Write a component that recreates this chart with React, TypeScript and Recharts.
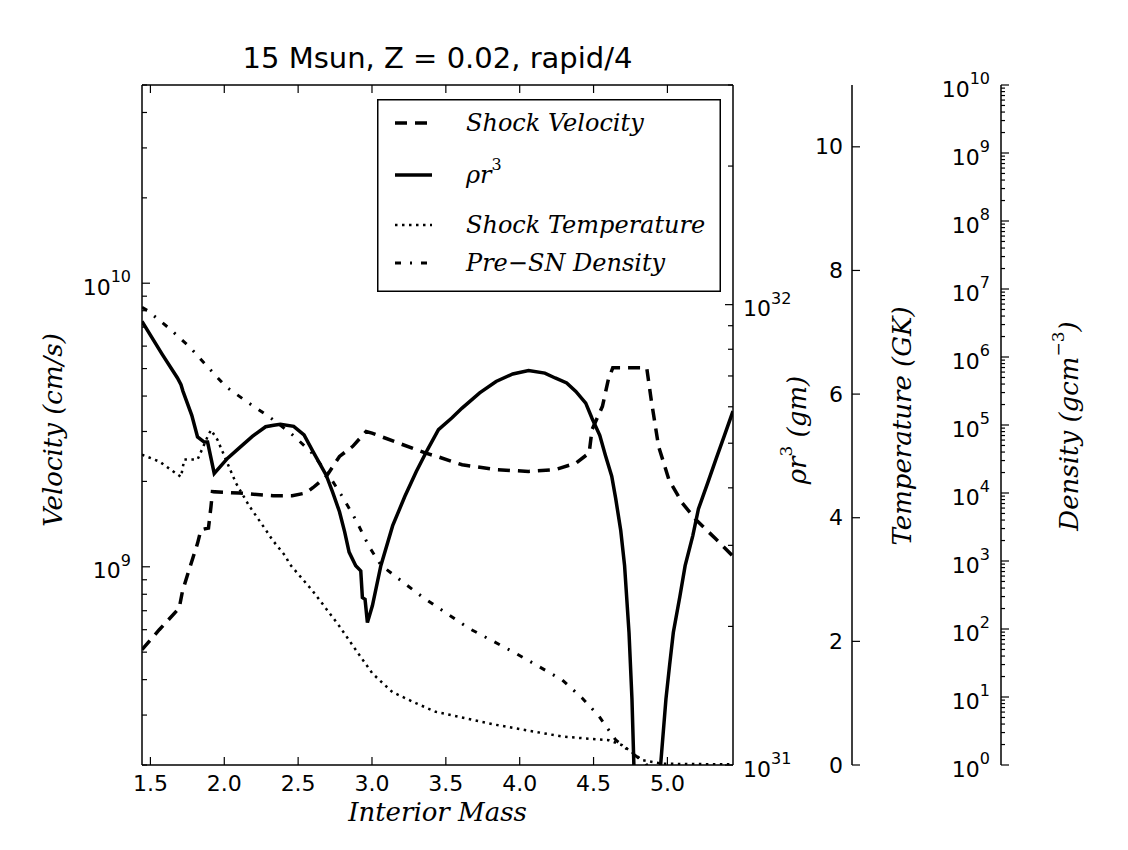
import React from "react";
import { ComposedChart, Line, XAxis, YAxis, Legend } from "recharts";

// [interior mass, value] pairs
const shockVelocity: [number, number][] = [
  [1.443, 5.1e8], [1.56, 6.0e8], [1.695, 7.15e8], [1.717, 8.2e8], [1.763, 9.8e8],
  [1.819, 1.21e9], [1.842, 1.35e9], [1.893, 1.37e9], [1.91, 1.63e9], [1.92, 1.84e9],
  [2.1, 1.82e9], [2.33, 1.78e9], [2.46, 1.78e9], [2.55, 1.82e9], [2.6, 1.9e9],
  [2.69, 2.08e9], [2.78, 2.45e9], [2.87, 2.66e9], [2.96, 3.0e9], [3.0, 2.96e9],
  [3.18, 2.73e9], [3.36, 2.52e9], [3.45, 2.44e9], [3.61, 2.29e9], [3.84, 2.2e9],
  [4.06, 2.17e9], [4.24, 2.2e9], [4.38, 2.32e9], [4.47, 2.52e9], [4.49, 3.05e9],
  [4.56, 3.68e9], [4.6, 4.57e9], [4.63, 5.03e9], [4.86, 5.03e9], [4.89, 3.89e9],
  [4.94, 2.66e9], [5.01, 2.03e9], [5.1, 1.68e9], [5.19, 1.47e9], [5.33, 1.25e9],
  [5.444, 1.09e9],
];

const rhoR3: [number, number][] = [
  [1.443, 9.2e31], [1.58, 7.8e31], [1.683, 6.93e31], [1.707, 6.7e31], [1.72, 6.49e31],
  [1.78, 5.75e31], [1.819, 5.16e31], [1.864, 5.03e31], [1.887, 5.03e31], [1.932, 4.3e31],
  [2.023, 4.64e31], [2.1, 4.88e31], [2.192, 5.18e31], [2.28, 5.43e31], [2.335, 5.47e31],
  [2.38, 5.5e31], [2.47, 5.44e31], [2.54, 5.21e31], [2.6, 4.8e31], [2.69, 4.26e31],
  [2.734, 3.91e31], [2.78, 3.55e31], [2.815, 3.21e31], [2.845, 2.9e31], [2.89, 2.71e31],
  [2.924, 2.64e31], [2.935, 2.31e31], [2.953, 2.29e31], [2.969, 2.04e31], [3.003, 2.22e31],
  [3.06, 2.71e31], [3.14, 3.31e31], [3.222, 3.83e31], [3.3, 4.34e31], [3.377, 4.85e31],
  [3.45, 5.35e31], [3.54, 5.67e31], [3.61, 5.96e31], [3.729, 6.43e31], [3.84, 6.81e31],
  [3.953, 7.07e31], [4.06, 7.19e31], [4.17, 7.1e31], [4.24, 6.93e31], [4.318, 6.76e31],
  [4.38, 6.48e31], [4.447, 6.11e31], [4.49, 5.66e31], [4.542, 5.2e31], [4.58, 4.71e31],
  [4.623, 4.24e31], [4.65, 3.79e31], [4.684, 3.23e31], [4.71, 2.71e31], [4.74, 1.94e31],
  [4.76, 1.39e31], [4.773, 1.0e31], [4.8, 4e30], [4.9, 3e30], [4.954, 1.0e31],
  [4.99, 1.39e31], [5.015, 1.65e31], [5.04, 1.94e31], [5.084, 2.32e31], [5.12, 2.71e31],
  [5.172, 3.15e31], [5.21, 3.6e31], [5.274, 4.11e31], [5.33, 4.63e31], [5.388, 5.22e31],
  [5.444, 5.87e31],
];

const shockTemperature: [number, number][] = [
  [1.443, 5.02], [1.56, 4.91], [1.707, 4.66], [1.729, 4.94], [1.819, 4.94],
  [1.887, 5.31], [1.91, 5.42], [1.954, 5.26], [2.011, 4.94], [2.079, 4.56],
  [2.169, 4.19], [2.282, 3.8], [2.326, 3.64], [2.417, 3.37], [2.439, 3.26],
  [2.597, 2.82], [2.778, 2.25], [2.891, 1.86], [3.003, 1.48], [3.138, 1.18],
  [3.297, 1.0], [3.432, 0.86], [3.838, 0.65], [4.288, 0.46], [4.604, 0.4],
  [4.694, 0.32], [4.83, 0.08], [4.965, 0.02], [5.444, 0.01],
];

const preSnDensity: [number, number][] = [
  [1.443, 5.4e6], [1.481, 4.8e6], [1.627, 2.64e6], [1.763, 1.42e6], [1.887, 7.2e5],
  [2.011, 3.66e5], [2.169, 2.08e5], [2.304, 1.32e5], [2.451, 7.55e4], [2.586, 4.05e4],
  [2.699, 1.95e4], [2.8, 8.8e3], [2.891, 4.0e3], [2.981, 1.62e3], [3.06, 873],
  [3.206, 496], [3.341, 296], [3.657, 102], [3.973, 44], [4.288, 17.8],
  [4.424, 9.6], [4.537, 5.2], [4.65, 2.33], [4.762, 1.49], [4.853, 1.06], [4.9, 0.7],
];

const massDomain: [number, number] = [1.443, 5.444];
const massTicks = [1.5, 2.0, 2.5, 3.0, 3.5, 4.0, 4.5, 5.0];
const velocityDomain: [number, number] = [2e8, 5e10];
const rhoDomain: [number, number] = [1e31, 3e32];
const tempDomain: [number, number] = [0, 11];
const tempTicks = [0, 2, 4, 6, 8, 10];
const densityDomain: [number, number] = [1, 1e10];

const legendItems = [
  { name: "Shock Velocity", sup: "", dash: "12 8", width: 3.5 },
  { name: "ρr", sup: "3", dash: "", width: 3.5 },
  { name: "Shock Temperature", sup: "", dash: "2.5 4.5", width: 2.5 },
  { name: "Pre−SN Density", sup: "", dash: "6 9 2 9", width: 3 },
];

// 1..9 x 10^k between lo and hi (log axis major + minor ticks)
function logTicks(lo: number, hi: number) {
  const out: number[] = [];
  for (let k = Math.floor(Math.log10(lo)); k <= Math.ceil(Math.log10(hi)); k++) {
    for (let m = 1; m <= 9; m++) {
      const v = m * Math.pow(10, k);
      if (v >= lo * (1 - 1e-9) && v <= hi * (1 + 1e-9)) out.push(v);
    }
  }
  return out;
}

const toRows = (pts: [number, number][]) => pts.map(([m, v]) => ({ m, v }));

const W = 1103;
const H = 835;
const LEFT = 134;
const TOP = 76;
const RHO_W = 119;
const TEMP_W = 149;
const DENS_W = 110;
const RIGHT = W - RHO_W - TEMP_W - DENS_W;
const CX = (LEFT + RIGHT) / 2;

const SANS = "'DejaVu Sans', sans-serif";
const SERIF = "'DejaVu Serif', serif";
const SPINE = { stroke: "#000", strokeWidth: 1.5 };

function isDecade(v: number) {
  const l = Math.log10(v);
  return Math.abs(l - Math.round(l)) < 1e-6;
}

function makeYTick(dir: number, labelDx: number, anchor: "start" | "end", log: boolean, minorLen: number) {
  return function YTick(props: any) {
    const { x, y, payload } = props;
    const v: number = payload.value;
    const major = log ? isDecade(v) : true;
    const len = major ? 8 : minorLen;
    return (
      <g>
        <line x1={x} y1={y} x2={x + dir * len} y2={y} stroke="#000" strokeWidth={1.2} />
        {major && log && (
          <text x={x + labelDx} y={y + 4} textAnchor={anchor} dominantBaseline="central" fontFamily={SANS} fontSize={22} fill="#000">
            10
            <tspan dy={-11} fontSize={16}>
              {Math.round(Math.log10(v))}
            </tspan>
          </text>
        )}
        {major && !log && (
          <text x={x + labelDx} y={y} textAnchor={anchor} dominantBaseline="central" fontFamily={SANS} fontSize={22} fill="#000">
            {v}
          </text>
        )}
      </g>
    );
  };
}

function makeXTick(dir: number, showLabel: boolean) {
  return function XTick(props: any) {
    const { x, y, payload } = props;
    return (
      <g>
        <line x1={x} y1={y} x2={x} y2={y + dir * 8} stroke="#000" strokeWidth={1.2} />
        {showLabel && (
          <text x={x} y={y + 18} textAnchor="middle" dominantBaseline="central" fontFamily={SANS} fontSize={22} fill="#000">
            {Number(payload.value).toFixed(1)}
          </text>
        )}
      </g>
    );
  };
}

const labelStyle = { fontFamily: SERIF, fontStyle: "italic" as const, fontSize: 26, fill: "#000" };

function vLabel(cx: number, cy: number, content: React.ReactNode) {
  return () => (
    <text x={cx} y={cy} transform={`rotate(-90, ${cx}, ${cy})`} textAnchor="middle" dominantBaseline="central" {...labelStyle}>
      {content}
    </text>
  );
}

// bottom axis label also carries the chart title
function bottomLabel() {
  return (
    <g>
      <text x={CX} y={60.3} textAnchor="middle" fontFamily={SANS} fontSize={29} fill="#000">
        15 Msun, Z = 0.02, rapid/4
      </text>
      <text x={CX} y={804} textAnchor="middle" dominantBaseline="central" {...labelStyle}>
        Interior Mass
      </text>
    </g>
  );
}

function renderLegend() {
  const rows = [24, 76, 126, 164];
  return (
    <svg width={344} height={193} style={{ display: "block" }}>
      <rect x={0.75} y={0.75} width={342.5} height={191.5} fill="#fff" stroke="#000" strokeWidth={1.5} />
      {legendItems.map((it, i) => (
        <g key={it.name}>
          <line x1={18} y1={rows[i]} x2={55} y2={rows[i]} stroke="#000" strokeWidth={it.width} strokeDasharray={it.dash || undefined} />
          <text x={89} y={rows[i]} dominantBaseline="central" {...labelStyle} fontSize={24}>
            {it.name}
            {it.sup && (
              <tspan dy={-11} fontSize={16} fontStyle="normal">
                {it.sup}
              </tspan>
            )}
          </text>
        </g>
      ))}
    </svg>
  );
}

export default function App() {
  return (
    <div style={{ width: W, height: H, fontFamily: SANS }}>
      <ComposedChart width={W} height={H} margin={{ top: TOP, right: 0, bottom: 8, left: 0 }}>
        <XAxis
          xAxisId="x"
          dataKey="m"
          type="number"
          domain={massDomain}
          allowDataOverflow
          ticks={massTicks}
          interval={0}
          height={70}
          tickSize={0}
          tickMargin={0}
          tickLine={false}
          axisLine={SPINE}
          tick={makeXTick(-1, true)}
          label={bottomLabel}
        />
        <XAxis
          xAxisId="top"
          orientation="top"
          dataKey="m"
          type="number"
          domain={massDomain}
          allowDataOverflow
          ticks={massTicks}
          interval={0}
          height={1}
          tickSize={0}
          tickMargin={0}
          tickLine={false}
          axisLine={SPINE}
          tick={makeXTick(1, false)}
        />
        <YAxis
          yAxisId="vel"
          orientation="left"
          width={LEFT}
          type="number"
          scale="log"
          domain={velocityDomain}
          allowDataOverflow
          ticks={logTicks(velocityDomain[0], velocityDomain[1])}
          interval={0}
          tickSize={0}
          tickMargin={0}
          tickLine={false}
          axisLine={SPINE}
          tick={makeYTick(1, -11, "end", true, 5)}
          label={vLabel(45, 422, "Velocity (cm/s)")}
        />
        <YAxis
          yAxisId="r1_rho"
          orientation="right"
          width={RHO_W}
          type="number"
          scale="log"
          domain={rhoDomain}
          allowDataOverflow
          ticks={logTicks(rhoDomain[0], rhoDomain[1])}
          interval={0}
          tickSize={0}
          tickMargin={0}
          tickLine={false}
          axisLine={SPINE}
          tick={makeYTick(-1, 10, "start", true, 5)}
          label={vLabel(RIGHT + 64, 422, (
            <>
              ρr
              <tspan dy={-11} fontSize={17} fontStyle="normal">3</tspan>
              <tspan dy={11}> (gm)</tspan>
            </>
          ))}
        />
        <YAxis
          yAxisId="r2_temp"
          orientation="right"
          width={TEMP_W}
          type="number"
          domain={tempDomain}
          allowDataOverflow
          ticks={tempTicks}
          interval={0}
          tickSize={0}
          tickMargin={0}
          tickLine={false}
          axisLine={SPINE}
          tick={makeYTick(1, -9, "end", false, 4)}
          label={vLabel(RIGHT + RHO_W + 50, 418, "Temperature (GK)")}
        />
        <YAxis
          yAxisId="r3_dens"
          orientation="right"
          width={DENS_W}
          type="number"
          scale="log"
          domain={densityDomain}
          allowDataOverflow
          ticks={logTicks(densityDomain[0], densityDomain[1])}
          interval={0}
          tickSize={0}
          tickMargin={0}
          tickLine={false}
          axisLine={SPINE}
          tick={makeYTick(1, -11, "end", true, 4)}
          label={vLabel(RIGHT + RHO_W + TEMP_W + 68, 418, (
            <>
              Density (gcm
              <tspan dy={-11} fontSize={17} fontStyle="normal">−3</tspan>
              <tspan dy={11}>)</tspan>
            </>
          ))}
        />
        <Legend
          layout="vertical"
          align="center"
          verticalAlign="middle"
          content={renderLegend}
          wrapperStyle={{ left: 369, top: 91, width: 344, height: 193 }}
        />
        <Line
          data={toRows(shockVelocity)}
          dataKey="v"
          xAxisId="x"
          yAxisId="vel"
          type="linear"
          stroke="#000"
          strokeWidth={3.5}
          strokeDasharray="12 8"
          dot={false}
          isAnimationActive={false}
        />
        <Line
          data={toRows(rhoR3)}
          dataKey="v"
          xAxisId="x"
          yAxisId="r1_rho"
          type="linear"
          stroke="#000"
          strokeWidth={3.5}
          dot={false}
          isAnimationActive={false}
        />
        <Line
          data={toRows(shockTemperature)}
          dataKey="v"
          xAxisId="x"
          yAxisId="r2_temp"
          type="linear"
          stroke="#000"
          strokeWidth={2.5}
          strokeDasharray="2.5 4.5"
          dot={false}
          isAnimationActive={false}
        />
        <Line
          data={toRows(preSnDensity)}
          dataKey="v"
          xAxisId="x"
          yAxisId="r3_dens"
          type="linear"
          stroke="#000"
          strokeWidth={3}
          strokeDasharray="6 9 2 9"
          dot={false}
          isAnimationActive={false}
        />
      </ComposedChart>
    </div>
  );
}
